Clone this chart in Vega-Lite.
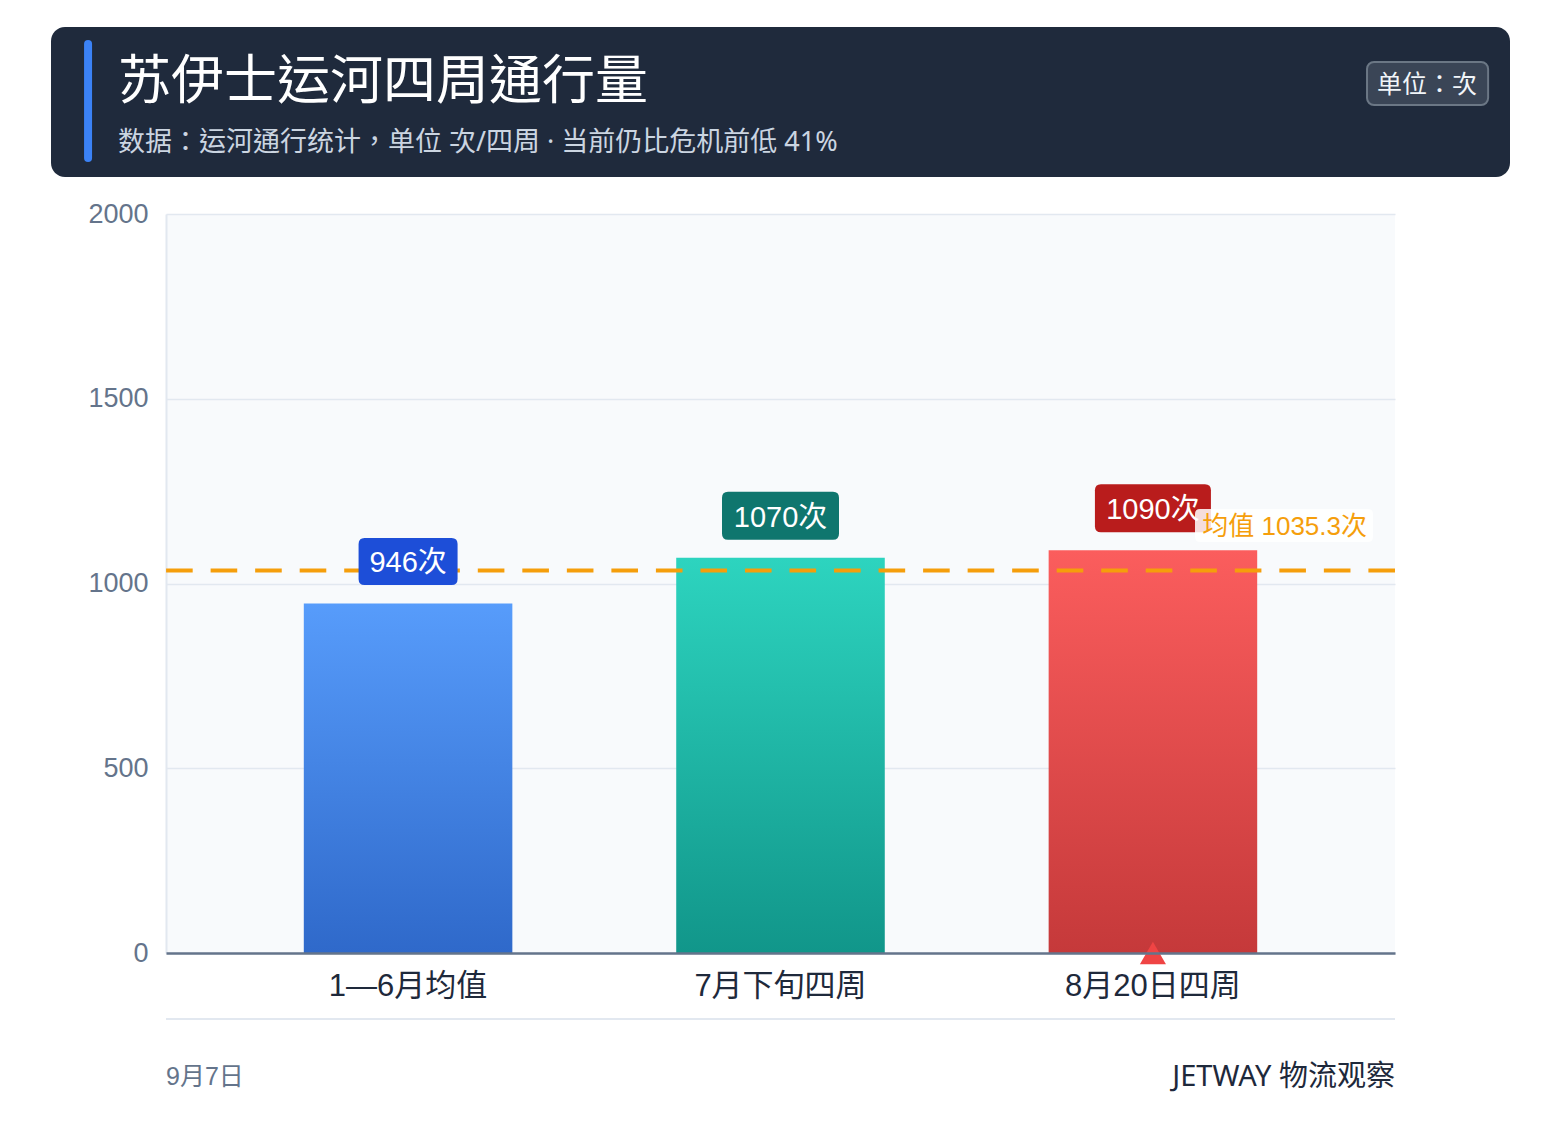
{
  "$schema": "https://vega.github.io/schema/vega-lite/v6.json",
  "padding": {"left": 51, "right": 51, "top": 27, "bottom": 35},
  "background": "#ffffff",
  "spacing": 37,
  "center": true,
  "bounds": "flush",
  "config": {"font": "Liberation Sans, Noto Sans CJK SC", "view": {"stroke": null}},
  "datasets": {
    "header": [{"title": "苏伊士运河四周通行量", "subtitle": "数据：运河通行统计，单位 次/四周 · 当前仍比危机前低 41%", "unit": "单位：次"}],
    "bars": [
      {"period": "1—6月均值", "value": 946, "label": "946次"},
      {"period": "7月下旬四周", "value": 1070, "label": "1070次"},
      {"period": "8月20日四周", "value": 1090, "label": "1090次"}
    ],
    "mean": [{"mean": 1035.3, "label": "均值 1035.3次"}],
    "footer": [{"date": "9月7日", "source": "JETWAY 物流观察"}]
  },
  "resolve": {
    "scale": {"x": "independent", "y": "independent", "color": "independent", "shape": "independent"},
    "axis": {"x": "independent", "y": "independent"}
  },
  "vconcat": [
    {
      "width": 1459,
      "height": 150,
      "view": {"fill": "#1f2a3c", "stroke": null, "cornerRadius": 14},
      "data": {"name": "header"},
      "layer": [
        {
          "mark": {"type": "rule", "color": "#3b82f6", "strokeWidth": 8, "strokeCap": "round"},
          "encoding": {
            "x": {"datum": 0.0254, "type": "quantitative", "scale": {"domain": [0, 1], "nice": false, "zero": false}, "axis": null},
            "y": {"datum": 0.1133, "type": "quantitative", "scale": {"domain": [0, 1], "nice": false, "zero": false, "reverse": true}, "axis": null},
            "y2": {"datum": 0.8733}
          }
        },
        {
          "mark": {"type": "text", "align": "left", "baseline": "middle", "font": "Noto Sans, Noto Sans CJK TC", "fontSize": 53, "color": "#ffffff"},
          "encoding": {
            "x": {"datum": 0.0459, "type": "quantitative"},
            "y": {"datum": 0.3733, "type": "quantitative"},
            "text": {"field": "title"}
          }
        },
        {
          "mark": {"type": "text", "align": "left", "baseline": "middle", "font": "Noto Sans, Noto Sans CJK TC", "fontSize": 27, "color": "#cbd5e1"},
          "encoding": {
            "x": {"datum": 0.0459, "type": "quantitative"},
            "y": {"datum": 0.7733, "type": "quantitative"},
            "text": {"field": "subtitle"}
          }
        },
        {
          "mark": {"type": "rect", "fill": "#3a4556", "stroke": "#6b7785", "strokeWidth": 2, "cornerRadius": 7},
          "encoding": {
            "x": {"datum": 0.902, "type": "quantitative"},
            "x2": {"datum": 0.985},
            "y": {"datum": 0.2333, "type": "quantitative"},
            "y2": {"datum": 0.52}
          }
        },
        {
          "mark": {"type": "text", "align": "center", "baseline": "middle", "font": "Noto Sans, Noto Sans CJK TC", "fontSize": 25, "color": "#f1f5f9"},
          "encoding": {
            "x": {"datum": 0.9431, "type": "quantitative"},
            "y": {"datum": 0.3867, "type": "quantitative"},
            "text": {"field": "unit"}
          }
        }
      ]
    },
    {
      "width": 1229,
      "height": 739,
      "view": {"fill": "#f8fafc", "stroke": null},
      "data": {"name": "bars"},
      "layer": [
        {
          "transform": [{"filter": {"field": "period", "equal": "1—6月均值"}}],
          "mark": {"type": "bar", "color": {"gradient": "linear", "x1": 0, "y1": 0, "x2": 0, "y2": 1, "stops": [{"offset": 0, "color": "#579cfb"}, {"offset": 1, "color": "#2f69ca"}]}},
          "encoding": {
            "x": {
              "field": "period", "type": "nominal",
              "scale": {"domain": ["1—6月均值", "7月下旬四周", "8月20日四周"], "paddingInner": 0.44, "paddingOuter": 0.37},
              "axis": {"title": null, "labelAngle": 0, "labelFontSize": 31, "labelColor": "#1e293b", "labelFont": "Liberation Sans, Noto Sans CJK SC", "labelPadding": 18, "ticks": false, "domainColor": "#64748b", "domainWidth": 2.5, "zindex": 1, "grid": false}
            },
            "y": {
              "field": "value", "type": "quantitative",
              "scale": {"domain": [0, 2000], "nice": false},
              "axis": {"title": null, "values": [0, 500, 1000, 1500, 2000], "format": "d", "labelFontSize": 27, "labelColor": "#64748b", "labelFont": "Liberation Sans", "labelPadding": 18, "ticks": false, "domainColor": "#e2e8f0", "domainWidth": 2, "gridColor": "#e2e8f0", "gridWidth": 1.5}
            }
          }
        },
        {
          "transform": [{"filter": {"field": "period", "equal": "7月下旬四周"}}],
          "mark": {"type": "bar", "color": {"gradient": "linear", "x1": 0, "y1": 0, "x2": 0, "y2": 1, "stops": [{"offset": 0, "color": "#2dd4bf"}, {"offset": 1, "color": "#11968a"}]}},
          "encoding": {
            "x": {"field": "period", "type": "nominal"},
            "y": {"field": "value", "type": "quantitative"}
          }
        },
        {
          "transform": [{"filter": {"field": "period", "equal": "8月20日四周"}}],
          "mark": {"type": "bar", "color": {"gradient": "linear", "x1": 0, "y1": 0, "x2": 0, "y2": 1, "stops": [{"offset": 0, "color": "#fb5d5d"}, {"offset": 1, "color": "#c5393a"}]}},
          "encoding": {
            "x": {"field": "period", "type": "nominal"},
            "y": {"field": "value", "type": "quantitative"}
          }
        },
        {
          "data": {"name": "mean"},
          "mark": {"type": "rule", "color": "#f59e0b", "strokeWidth": 4, "strokeDash": [26.6, 17.93]},
          "encoding": {
            "y": {"field": "mean", "type": "quantitative"}
          }
        },
        {
          "mark": {"type": "point", "filled": true, "opacity": 1, "size": 10000, "yOffset": -42},
          "encoding": {
            "x": {"field": "period", "type": "nominal"},
            "y": {"field": "value", "type": "quantitative"},
            "shape": {
              "field": "period", "type": "nominal", "legend": null,
              "scale": {
                "domain": ["1—6月均值", "7月下旬四周", "8月20日四周"],
                "range": [
                  "M -0.87,-0.47 L 0.87,-0.47 Q 0.99,-0.47 0.99,-0.35 L 0.99,0.35 Q 0.99,0.47 0.87,0.47 L -0.87,0.47 Q -0.99,0.47 -0.99,0.35 L -0.99,-0.35 Q -0.99,-0.47 -0.87,-0.47 Z",
                  "M -1.05,-0.48 L 1.05,-0.48 Q 1.17,-0.48 1.17,-0.36 L 1.17,0.36 Q 1.17,0.48 1.05,0.48 L -1.05,0.48 Q -1.17,0.48 -1.17,0.36 L -1.17,-0.36 Q -1.17,-0.48 -1.05,-0.48 Z",
                  "M -1.04,-0.48 L 1.04,-0.48 Q 1.16,-0.48 1.16,-0.36 L 1.16,0.36 Q 1.16,0.48 1.04,0.48 L -1.04,0.48 Q -1.16,0.48 -1.16,0.36 L -1.16,-0.36 Q -1.16,-0.48 -1.04,-0.48 Z"
                ]
              }
            },
            "color": {
              "field": "period", "type": "nominal", "legend": null,
              "scale": {"domain": ["1—6月均值", "7月下旬四周", "8月20日四周"], "range": ["#1d4ed8", "#0f766e", "#b91c1c"]}
            }
          }
        },
        {
          "mark": {"type": "text", "align": "center", "baseline": "middle", "dy": -40, "fontSize": 29, "color": "#ffffff", "font": "Liberation Sans, Noto Sans CJK SC"},
          "encoding": {
            "x": {"field": "period", "type": "nominal"},
            "y": {"field": "value", "type": "quantitative"},
            "text": {"field": "label"}
          }
        },
        {
          "data": {"name": "mean"},
          "mark": {"type": "point", "filled": true, "opacity": 0.85, "color": "#ffffff", "size": 10000, "xOffset": -111, "yOffset": -45,
            "shape": "M -1.68,-0.33 L 1.68,-0.33 Q 1.78,-0.33 1.78,-0.23 L 1.78,0.23 Q 1.78,0.33 1.68,0.33 L -1.68,0.33 Q -1.78,0.33 -1.78,0.23 L -1.78,-0.23 Q -1.78,-0.33 -1.68,-0.33 Z"},
          "encoding": {
            "x": {"value": "width"},
            "y": {"field": "mean", "type": "quantitative"}
          }
        },
        {
          "data": {"name": "mean"},
          "mark": {"type": "text", "align": "right", "baseline": "middle", "dx": -28, "dy": -43, "fontSize": 26, "color": "#f59e0b", "font": "Liberation Sans, Noto Sans CJK SC"},
          "encoding": {
            "x": {"value": "width"},
            "y": {"field": "mean", "type": "quantitative"},
            "text": {"field": "label"}
          }
        },
        {
          "transform": [{"filter": {"field": "period", "equal": "8月20日四周"}}],
          "mark": {"type": "point", "shape": "triangle-up", "filled": true, "opacity": 1, "size": 680, "color": "#ef4444"},
          "encoding": {
            "x": {"field": "period", "type": "nominal"},
            "y": {"datum": 0, "type": "quantitative"}
          }
        }
      ]
    },
    {
      "width": 1229,
      "height": 120,
      "view": {"stroke": null},
      "data": {"name": "footer"},
      "layer": [
        {
          "mark": {"type": "rule", "color": "#e2e8f0", "strokeWidth": 2},
          "encoding": {
            "y": {"datum": 0.2417, "type": "quantitative", "scale": {"domain": [0, 1], "nice": false, "zero": false, "reverse": true}, "axis": null}
          }
        },
        {
          "mark": {"type": "text", "align": "left", "baseline": "middle", "fontSize": 25, "color": "#64748b", "font": "Liberation Sans, Noto Sans CJK SC"},
          "encoding": {
            "x": {"datum": 0, "type": "quantitative", "scale": {"domain": [0, 1], "nice": false, "zero": false}, "axis": null},
            "y": {"datum": 0.722, "type": "quantitative"},
            "text": {"field": "date"}
          }
        },
        {
          "mark": {"type": "text", "align": "right", "baseline": "middle", "fontSize": 29, "color": "#1e293b", "font": "Noto Sans, Noto Sans CJK SC"},
          "encoding": {
            "x": {"datum": 1, "type": "quantitative"},
            "y": {"datum": 0.722, "type": "quantitative"},
            "text": {"field": "source"}
          }
        }
      ]
    }
  ]
}
